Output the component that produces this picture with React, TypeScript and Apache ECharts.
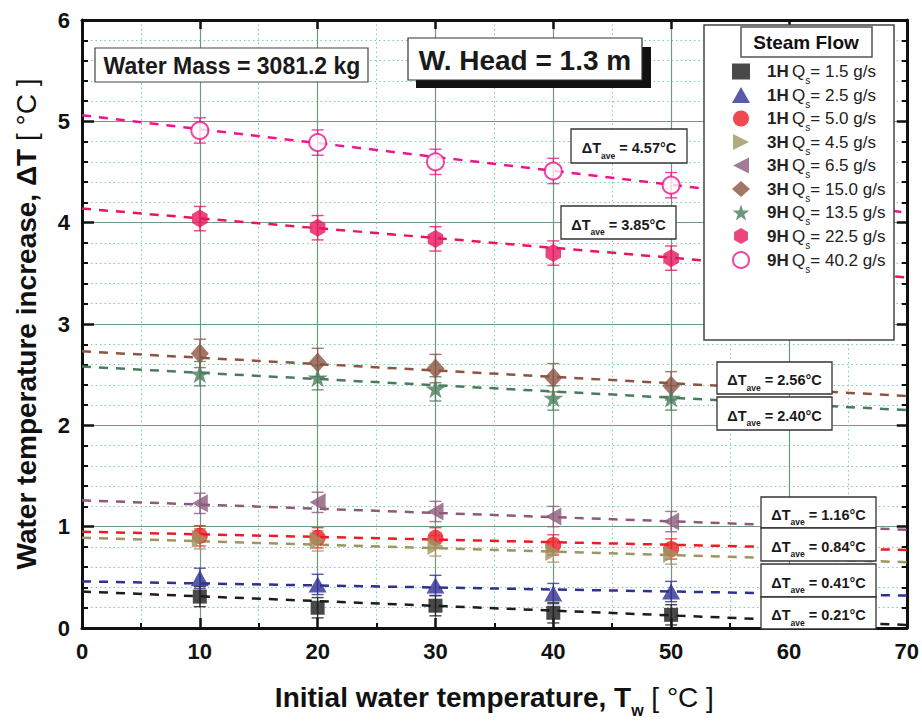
import React, { useEffect, useRef } from 'react';
import * as echarts from 'echarts';

// ---------- data ----------
const tempsC = [10, 20, 30, 40, 50];
const heads = ['1H', '1H', '1H', '3H', '3H', '3H', '9H', '9H', '9H'];
const flowsGs = ['1.5', '2.5', '5.0', '4.5', '6.5', '15.0', '13.5', '22.5', '40.2'];

const dT_1H_1_5 = [0.31, 0.20, 0.22, 0.15, 0.13];
const dT_1H_2_5 = [0.49, 0.43, 0.42, 0.34, 0.36];
const dT_1H_5_0 = [0.91, 0.89, 0.89, 0.82, 0.78];
const dT_3H_4_5 = [0.88, 0.86, 0.81, 0.75, 0.73];
const dT_3H_6_5 = [1.23, 1.24, 1.15, 1.10, 1.05];
const dT_3H_15_0 = [2.71, 2.62, 2.56, 2.47, 2.39];
const dT_9H_13_5 = [2.51, 2.47, 2.36, 2.27, 2.27];
const dT_9H_22_5 = [4.04, 3.95, 3.84, 3.70, 3.65];
const dT_9H_40_2 = [4.91, 4.79, 4.60, 4.51, 4.37];

const errHalf = [0.1, 0.1, 0.1, 0.1, 0.1, 0.14, 0.12, 0.12, 0.125];

// dashed trend lines: value at Tw = 0 and at Tw = 70
const fitAt0 = [0.36, 0.46, 0.95, 0.89, 1.26, 2.73, 2.58, 4.14, 5.06];
const fitAt70 = [0.03, 0.32, 0.77, 0.65, 0.97, 2.29, 2.15, 3.46, 4.10];

const aveValues = ['4.57', '3.85', '2.56', '2.40', '1.16', '0.84', '0.41', '0.21'];

const xTickMin = 0, xTickMax = 70, xTickStep = 10;
const yTickMin = 0, yTickMax = 6, yTickStep = 1;

const allValues = [dT_1H_1_5, dT_1H_2_5, dT_1H_5_0, dT_3H_4_5, dT_3H_6_5, dT_3H_15_0, dT_9H_13_5, dT_9H_22_5, dT_9H_40_2];

// ---------- styles ----------
const colors = ['#1c1c1c', '#2e3192', '#ed1c24', '#9c9660', '#8c5a7c', '#8b5443', '#4a7c5c', '#e6175c', '#ec168c'];
const HEX = 'path://M0,-1 L0.866,-0.5 L0.866,0.5 L0,1 L-0.866,0.5 L-0.866,-0.5 Z';
const STAR = 'path://M0,-1 L0.2245,-0.309 L0.951,-0.309 L0.363,0.118 L0.588,0.809 L0,0.382 L-0.588,0.809 L-0.363,0.118 L-0.951,-0.309 L-0.2245,-0.309 Z';
const TRI_RIGHT = 'path://M-1,-1 L1,0 L-1,1 Z';
const TRI_LEFT = 'path://M1,-1 L-1,0 L1,1 Z';
const symbols = ['rect', 'triangle', 'circle', TRI_RIGHT, TRI_LEFT, 'diamond', STAR, HEX, 'emptyCircle'];
const symbolSizes: any[] = [14, [18, 16], 16, [16, 18], [16, 18], [18, 20], 20, 18, 17];

const NARROW = "'Liberation Sans Narrow', 'Arial Narrow', 'Liberation Sans', Arial, sans-serif";
const SANS = "'Liberation Sans', Arial, sans-serif";

const seriesNames = heads.map((h, i) => `${h} Qs = ${flowsGs[i]} g/s`);

function buildOption() {
  const series: any[] = [];
  allValues.forEach((vals, i) => {
    const c = colors[i];
    series.push({
      type: 'line',
      name: 'fit' + i,
      data: [[xTickMin, fitAt0[i]], [xTickMax, fitAt70[i]]],
      symbol: 'none',
      silent: true,
      z: 2,
      lineStyle: { color: c, width: 2.5, type: [9, 8] },
    });
    series.push({
      type: 'custom',
      name: 'err' + i,
      z: 2,
      silent: true,
      encode: { x: 0, y: 1 },
      data: tempsC.map((x, j) => [x, vals[j], errHalf[i]]),
      renderItem: (params: any, api: any) => {
        const x = api.value(0), y = api.value(1), e = api.value(2);
        const t = api.coord([x, y + e]);
        const b = api.coord([x, y - e]);
        const cw = 6;
        const st = { stroke: c, lineWidth: 1.4, opacity: 0.8 };
        return {
          type: 'group',
          children: [
            { type: 'line', shape: { x1: t[0], y1: t[1], x2: b[0], y2: b[1] }, style: st },
            { type: 'line', shape: { x1: t[0] - cw, y1: t[1], x2: t[0] + cw, y2: t[1] }, style: st },
            { type: 'line', shape: { x1: b[0] - cw, y1: b[1], x2: b[0] + cw, y2: b[1] }, style: st },
          ],
        };
      },
    });
    series.push({
      type: 'scatter',
      name: seriesNames[i],
      z: 3,
      data: tempsC.map((x, j) => [x, vals[j]]),
      symbol: symbols[i],
      symbolSize: symbolSizes[i],
      symbolKeepAspect: true,
      itemStyle: i === 8 ? { color: c, borderColor: c, borderWidth: 1.5 } : { color: c },
    });
  });

  const aveBoxes = [
    [571, 129, 116, 34],
    [561, 206, 115, 33],
    [717, 362, 115, 32],
    [717, 397, 115, 33],
    [761, 497, 115, 31],
    [761, 528, 115, 33],
    [761, 564, 115, 33],
    [761, 597, 115, 32],
  ];

  const graphics: any[] = [];
  // legend frame
  graphics.push({ type: 'rect', z: 5, shape: { x: 704, y: 25, width: 190, height: 315 }, style: { fill: '#fff', stroke: '#444', lineWidth: 1.5 } });
  graphics.push({ type: 'rect', z: 7, shape: { x: 741, y: 27, width: 131, height: 30 }, style: { fill: '#fff', stroke: '#555', lineWidth: 1.5 } });
  graphics.push({ type: 'text', z: 8, style: { x: 806, y: 42, text: 'Steam Flow', align: 'center', verticalAlign: 'middle', fontFamily: SANS, fontWeight: 'bold', fontSize: 19, fill: '#111' } });

  // Water mass box
  graphics.push({ type: 'rect', z: 7, shape: { x: 95, y: 48, width: 273, height: 34 }, style: { fill: '#fff', stroke: '#444', lineWidth: 1.2 } });
  graphics.push({ type: 'text', z: 8, style: { x: 232, y: 66, text: 'Water Mass = 3081.2 kg', align: 'center', verticalAlign: 'middle', fontFamily: NARROW, fontWeight: 'bold', fontSize: 23, fill: '#1a1a1a' } });

  // W. Head box with shadow
  graphics.push({ type: 'rect', z: 7, shape: { x: 416, y: 47, width: 235, height: 41 }, style: { fill: '#111' } });
  graphics.push({ type: 'rect', z: 7, shape: { x: 408, y: 38, width: 234, height: 42 }, style: { fill: '#fff', stroke: '#333', lineWidth: 1.2 } });
  graphics.push({ type: 'text', z: 8, style: { x: 525, y: 60, text: 'W. Head = 1.3 m', align: 'center', verticalAlign: 'middle', fontFamily: NARROW, fontWeight: 'bold', fontSize: 28, fill: '#1a1a1a' } });

  aveBoxes.forEach((b, k) => {
    graphics.push({ type: 'rect', z: 7, shape: { x: b[0], y: b[1], width: b[2], height: b[3] }, style: { fill: '#fff', stroke: '#333', lineWidth: 1.3 } });
    graphics.push({
      type: 'text', z: 8,
      style: {
        x: b[0] + b[2] / 2, y: b[1] + b[3] / 2 + 2,
        text: `{d|ΔT}{s|ave}{d| = ${aveValues[k]}°C}`,
        align: 'center', verticalAlign: 'middle',
        rich: {
          d: { fontFamily: SANS, fontWeight: 'bold', fontSize: 14.5, fill: '#1a1a1a', lineHeight: 18, verticalAlign: 'middle' },
          s: { fontFamily: SANS, fontWeight: 'bold', fontSize: 8.5, fill: '#1a1a1a', lineHeight: 24, verticalAlign: 'bottom' },
        },
      },
    });
  });

  const axisLineStyle = { color: '#111', width: 3 };
  const tickStyle = { color: '#111', width: 2.5 };
  const minorTickStyle = { color: '#111', width: 2 };
  const labelStyle = { fontFamily: SANS, fontWeight: 'bold', fontSize: 22, color: '#111' };
  const minorGrid = { show: true, lineStyle: { color: '#72d3a2', type: [1.5, 3], width: 1 } };
  const majorGrid = { show: true, lineStyle: { color: '#6f9a80', width: 1.2 } };

  return {
    animation: false,
    backgroundColor: '#fff',
    grid: { left: 82, right: 15, top: 20, bottom: 93 },
    legend: {
      orient: 'vertical',
      left: 727,
      top: 58,
      z: 6,
      itemWidth: 18,
      itemHeight: 16,
      itemGap: 1,
      selectedMode: false,
      data: seriesNames,
      formatter: (name: string) => {
        const i = seriesNames.indexOf(name);
        return `{b|${heads[i]}} {r|Q}{s|s}{r|= ${flowsGs[i]} g/s}`;
      },
      textStyle: {
        padding: [0, 0, 0, 12],
        rich: {
          b: { fontFamily: SANS, fontWeight: 'bold', fontSize: 17, color: '#222', lineHeight: 20, verticalAlign: 'middle' },
          r: { fontFamily: SANS, fontSize: 17, color: '#222', lineHeight: 20, verticalAlign: 'middle' },
          s: { fontFamily: SANS, fontSize: 10, color: '#222', lineHeight: 28, verticalAlign: 'bottom' },
        },
      },
    },
    xAxis: [
      {
        type: 'value', min: xTickMin, max: xTickMax, interval: xTickStep, position: 'bottom',
        axisLine: { show: true, onZero: false, lineStyle: axisLineStyle },
        axisTick: { show: true, inside: true, length: 10, lineStyle: tickStyle },
        minorTick: { show: true, splitNumber: 2, length: 5, lineStyle: minorTickStyle },
        splitLine: majorGrid,
        minorSplitLine: minorGrid,
        axisLabel: { ...labelStyle, margin: 12 },
        name: '{b|Initial water temperature, T}{sub|w}{r| [ °C ]}',
        nameLocation: 'middle',
        nameGap: 48,
        nameTextStyle: {
          rich: {
            b: { fontFamily: NARROW, fontWeight: 'bold', fontSize: 28, color: '#111', lineHeight: 32, verticalAlign: 'middle' },
            r: { fontFamily: NARROW, fontSize: 28, color: '#111', lineHeight: 32, verticalAlign: 'middle' },
            sub: { fontFamily: NARROW, fontWeight: 'bold', fontSize: 16, color: '#111', lineHeight: 42, verticalAlign: 'bottom' },
          },
        },
      },
      {
        type: 'value', min: xTickMin, max: xTickMax, interval: xTickStep, position: 'top',
        axisLine: { show: true, onZero: false, lineStyle: axisLineStyle },
        axisTick: { show: true, inside: true, length: 9, lineStyle: tickStyle },
        axisLabel: { show: false },
        splitLine: { show: false },
      },
    ],
    yAxis: [
      {
        type: 'value', min: yTickMin, max: yTickMax, interval: yTickStep, position: 'left',
        axisLine: { show: true, onZero: false, lineStyle: axisLineStyle },
        axisTick: { show: true, inside: true, length: 12, lineStyle: tickStyle },
        minorTick: { show: true, splitNumber: 5, length: 6, lineStyle: minorTickStyle },
        splitLine: majorGrid,
        minorSplitLine: minorGrid,
        axisLabel: { ...labelStyle, margin: 12 },
        name: '{b|Water temperature increase, ΔT }{r|[ °C ]}',
        nameLocation: 'middle',
        nameGap: 42,
        nameTextStyle: {
          rich: {
            b: { fontFamily: NARROW, fontWeight: 'bold', fontSize: 28, color: '#111' },
            r: { fontFamily: NARROW, fontSize: 28, color: '#111' },
          },
        },
      },
      {
        type: 'value', min: yTickMin, max: yTickMax, interval: yTickStep, position: 'right',
        axisLine: { show: true, onZero: false, lineStyle: axisLineStyle },
        axisTick: { show: true, inside: true, length: 10, lineStyle: tickStyle },
        minorTick: { show: true, splitNumber: 5, length: 5, lineStyle: minorTickStyle },
        axisLabel: { show: false },
        splitLine: { show: false },
      },
    ],
    graphic: { elements: graphics },
    series,
  };
}

export default function App() {
  const ref = useRef<HTMLDivElement>(null);
  useEffect(() => {
    const chart = echarts.init(ref.current!, null, { renderer: 'svg' });
    chart.setOption(buildOption() as any);
    return () => chart.dispose();
  }, []);
  return <div ref={ref} style={{ position: 'fixed', left: 0, top: 0, width: 922, height: 723 }} />;
}
